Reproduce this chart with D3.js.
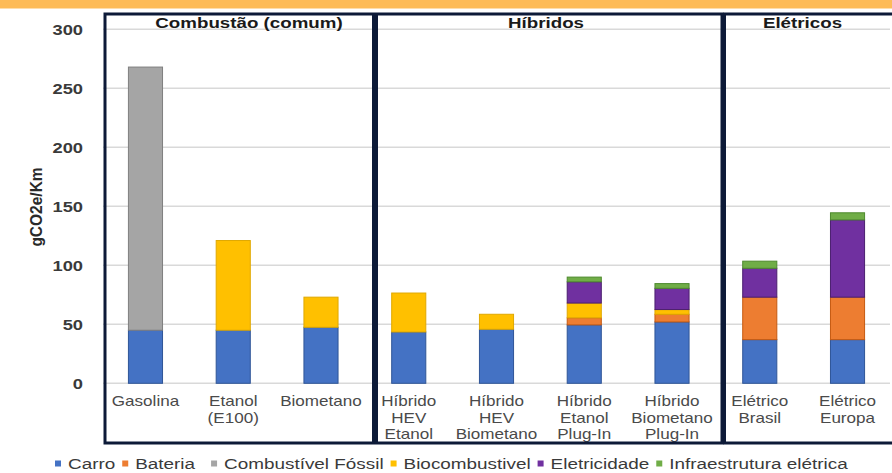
<!DOCTYPE html>
<html>
<head>
<meta charset="utf-8">
<script src="https://cdn.jsdelivr.net/npm/d3@7"></script>
<style>
  html, body { margin: 0; padding: 0; background: #ffffff; }
  svg { display: block; font-family: "Liberation Sans", Arial, sans-serif; }
</style>
</head>
<body>
<svg id="chart" width="892" height="473"></svg>
<script>
// ---- data ----
const categories = [
  ["Gasolina"],
  ["Etanol", "(E100)"],
  ["Biometano"],
  ["Híbrido", "HEV", "Etanol"],
  ["Híbrido", "HEV", "Biometano"],
  ["Híbrido", "Etanol", "Plug-In"],
  ["Híbrido", "Biometano", "Plug-In"],
  ["Elétrico", "Brasil"],
  ["Elétrico", "Europa"]
];
const seriesNames = ["Carro", "Bateria", "Combustível Fóssil", "Biocombustivel", "Eletricidade", "Infraestrutura elétrica"];
const carro         = [45, 45, 47.5, 43.5, 45.8, 49.5, 52, 37, 37];
const bateria       = [0, 0, 0, 0, 0, 6, 6.5, 36, 36];
const fossil        = [223, 0, 0, 0, 0, 0, 0, 0, 0];
const biocomb       = [0, 76, 25.5, 33, 12.7, 12.5, 4, 0, 0];
const eletricidade  = [0, 0, 0, 0, 0, 18, 18, 24.5, 65.5];
const infra         = [0, 0, 0, 0, 0, 4, 4, 6, 6];
const groups = ["Combustão (comum)", "Híbridos", "Elétricos"];
const yTicks = [0, 50, 100, 150, 200, 250, 300];
const yLabel = "gCO2e/Km";

// ---- styles ----
const fills   = ["#4472C4", "#ED7D31", "#A5A5A5", "#FFC000", "#7030A0", "#70AD47"];
const strokes = ["#2F5597", "#C55A11", "#7F7F7F", "#E0A800", "#4B1F6F", "#4E8A2E"];
const SX = 1.22;
const LSX = 1.26;
const navy = "#0d1a38";

const svg = d3.select("#chart");
const seriesValues = [carro, bateria, fossil, biocomb, eletricidade, infra];
const keys = seriesNames;
const table = categories.map((c, i) => {
  const row = { cat: c.join(" "), idx: i };
  keys.forEach((k, j) => row[k] = seriesValues[j][i]);
  return row;
});

const x = d3.scaleBand()
  .domain(table.map(d => d.cat))
  .range([101.6, 891.4])
  .paddingInner(0.6)
  .paddingOuter(0.3);
const y = d3.scaleLinear().domain([0, 300]).range([383.3, 29.3]);

// top orange banner
svg.append("rect").attr("x", 0).attr("y", 0).attr("width", 892).attr("height", 8.5).attr("fill", "#FDBB57");

// gridlines
svg.append("g").selectAll("line").data(yTicks).join("line")
  .attr("x1", 103).attr("x2", 890)
  .attr("y1", d => y(d)).attr("y2", d => y(d))
  .attr("stroke", "#d9d9d9").attr("stroke-width", 1.5);

// bars
const stack = d3.stack().keys(keys)(table);
const barG = svg.append("g");
stack.forEach((layer, j) => {
  barG.append("g").selectAll("rect")
    .data(layer.filter(d => d[1] - d[0] > 0))
    .join("rect")
    .attr("x", d => x(d.data.cat) + 0.5)
    .attr("width", x.bandwidth() - 1)
    .attr("y", d => y(d[1]))
    .attr("height", d => y(d[0]) - y(d[1]))
    .attr("fill", fills[j])
    .attr("stroke", strokes[j])
    .attr("stroke-width", 1);
});

// y axis
const yAxis = svg.append("g").attr("transform", "translate(84,0)")
  .call(d3.axisLeft(y).tickValues(yTicks).tickSize(0).tickPadding(0));
yAxis.select(".domain").remove();
yAxis.selectAll("text")
  .attr("x", -1 / SX)
  .attr("transform", `scale(${SX},1)`)
  .attr("font-family", "'Liberation Sans', Arial, sans-serif")
  .attr("font-size", 15)
  .attr("font-weight", "bold")
  .attr("fill", "#3a3a3a");

// y label
svg.append("text")
  .attr("transform", "translate(42,207) rotate(-90) scale(1,1.1)")
  .attr("text-anchor", "middle")
  .attr("font-size", 15.5)
  .attr("font-weight", "bold")
  .attr("fill", "#2a2a2a")
  .text(yLabel);

// category labels
const catG = svg.append("g");
table.forEach((d, i) => {
  const cx = x(d.cat) + x.bandwidth() / 2;
  categories[i].forEach((line, k) => {
    catG.append("text")
      .attr("transform", `translate(${cx},${406 + k * 16.6}) scale(${SX},1)`)
      .attr("text-anchor", "middle")
      .attr("font-size", 14)
      .attr("fill", "#4a4a4a")
      .text(line);
  });
});

// group boxes
const boxes = [[105, 373.5], [376.5, 722], [724.5, 905]];
svg.append("g").selectAll("rect").data(boxes).join("rect")
  .attr("x", d => d[0]).attr("y", 14)
  .attr("width", d => d[1] - d[0]).attr("height", 429)
  .attr("fill", "none").attr("stroke", navy).attr("stroke-width", 3);

// group titles
const titleX = [249, 546, 802.5];
groups.forEach((g, i) => {
  svg.append("text")
    .attr("transform", `translate(${titleX[i]},27.5) scale(1.25,1)`)
    .attr("text-anchor", "middle")
    .attr("font-size", 15)
    .attr("font-weight", "bold")
    .attr("fill", "#1a1a1a")
    .text(g);
});

// legend
const legG = svg.append("g");
let lx = 55;
seriesNames.forEach((name, j) => {
  legG.append("rect").attr("x", lx).attr("y", 460.5).attr("width", 6).attr("height", 6)
    .attr("fill", fills[j]);
  const t = legG.append("text")
    .attr("transform", `translate(${lx + 13},469) scale(${LSX},1)`)
    .attr("font-size", 15)
    .attr("fill", "#3a3a3a")
    .text(name);
  const w = t.node().getComputedTextLength() * LSX;
  lx = lx + 13 + w + (j === 1 ? 16 : 7);
});
</script>
</body>
</html>
